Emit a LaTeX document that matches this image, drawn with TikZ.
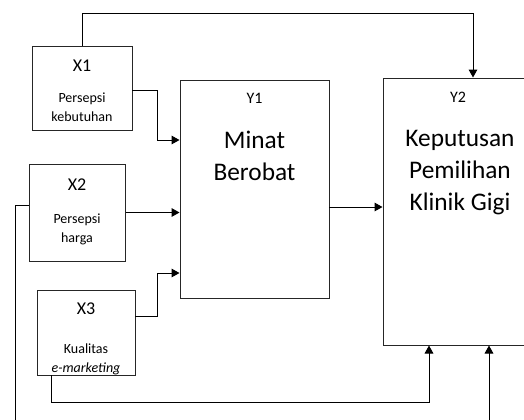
\documentclass[tikz,border=0pt]{standalone}
\usepackage{fontspec}
\setmainfont{Carlito}
\usetikzlibrary{arrows.meta,calc}
\tikzset{
  box/.style={draw=black!85, line width=0.75pt, rectangle, inner sep=0pt},
  lbl/.style={inner sep=0pt, font=\fontsize{13.5pt}{15pt}\selectfont},
  ylbl/.style={inner sep=0pt, font=\fontsize{12pt}{14pt}\selectfont},
  small/.style={inner sep=0pt, align=center, font=\fontsize{10.5pt}{14.25pt}\selectfont},
  big/.style={inner sep=0pt, align=center, font=\fontsize{19pt}{24pt}\selectfont},
  conn/.style={draw=black, line width=0.75pt},
  arr/.style={conn, -{Triangle[length=6pt,width=6.5pt]}}
}
\begin{document}
\begin{tikzpicture}[x=0.75pt,y=-0.75pt]
\useasboundingbox (0,0) rectangle (524,419);
\clip (0,0) rectangle (524,419);
% boxes
\node[box, minimum width=75pt, minimum height=63pt] (X1) at (82,88) {};
\node[box, minimum width=72pt, minimum height=72.75pt] (X2) at (77,212.5) {};
\node[box, minimum width=73.5pt, minimum height=63.75pt] (X3) at (86,332.5) {};
\node[box, minimum width=111.75pt, minimum height=163.5pt] (Y1) at (254.5,189) {};
\node[box, minimum width=115.5pt, minimum height=200.25pt] (Y2) at (460,211.5) {};
% texts
\node[lbl] (tX1) at (82,66) {X1};
\node[small] (sX1) at (82,107.5) {Persepsi\\kebutuhan};
\node[lbl] (tX2) at (77,185) {X2};
\node[small] (sX2) at (77,229) {Persepsi\\harga};
\node[lbl] (tX3) at (86,309) {X3};
\node[small] (sX3) at (86,359) {Kualitas\\\textit{e-marketing}};
\node[ylbl] (tY1) at (254.5,98) {Y1};
\node[big] (bY1) at (254.5,156) {Minat\\Berobat};
\node[ylbl] (tY2) at (458,97) {Y2};
\node[big] (bY2) at (460,173) {Keputusan\\Pemilihan\\Klinik Gigi};
% coordinates
\coordinate (topL) at (82,13);
\coordinate (topR) at (473,13);
\coordinate (x1o) at (132,90);
\coordinate (x1m) at (157,90);
\coordinate (x1n) at (157,140);
\coordinate (x3o) at (135,316);
\coordinate (x3m) at (157,316);
\coordinate (x3n) at (157,273);
\coordinate (y1o) at (329,207);
\coordinate (x3b) at (51,375);
\coordinate (x3c) at (51,402);
\coordinate (x3d) at (429,402);
\coordinate (x2l) at (29,205);
\coordinate (x2a) at (15,205);
\coordinate (x2b) at (15,430);
\coordinate (x2c) at (489,430);
% connectors
\draw[arr] (X1.north) -- (topL) -- (topR) -- (topR |- Y2.north);
\draw[arr] (x1o) -- (x1m) -- (x1n) -- (x1n -| Y1.west);
\draw[arr] (X2.east) -- (X2.east -| Y1.west);
\draw[arr] (x3o) -- (x3m) -- (x3n) -- (x3n -| Y1.west);
\draw[arr] (y1o) -- (y1o -| Y2.west);
\draw[arr] (x3b) -- (x3c) -- (x3d) -- (x3d |- Y2.south);
\draw[arr] (x2l) -- (x2a) -- (x2b) -- (x2c) -- (x2c |- Y2.south);
\end{tikzpicture}
\end{document}
